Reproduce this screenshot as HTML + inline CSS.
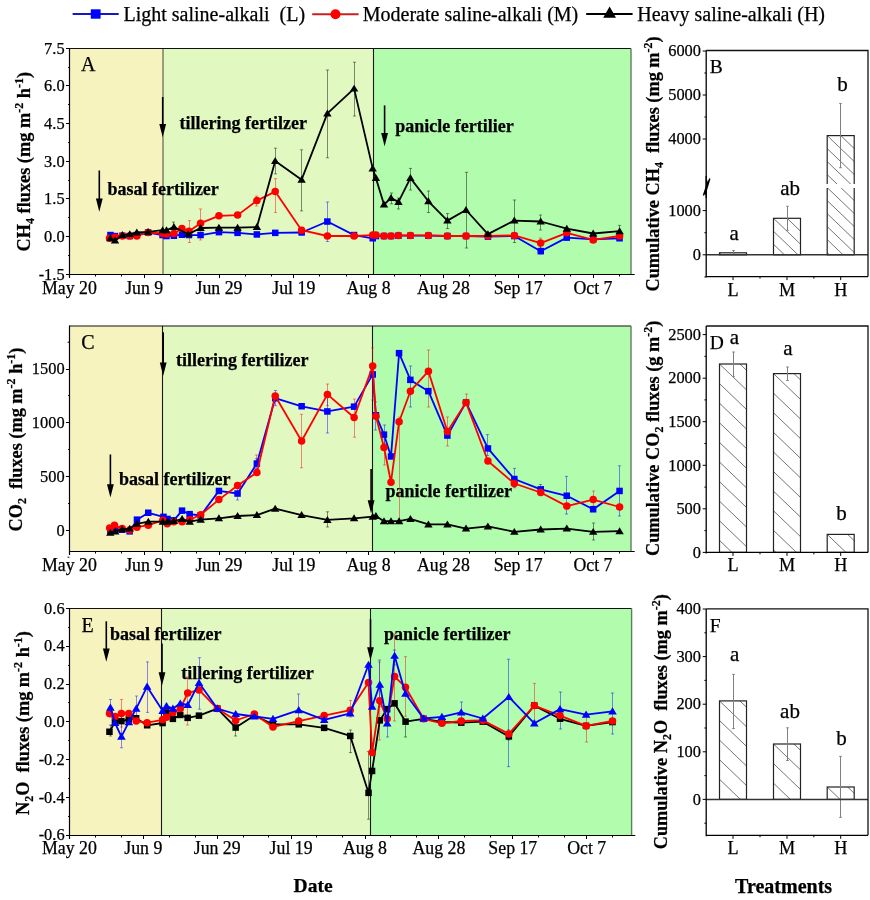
<!DOCTYPE html><html><head><meta charset="utf-8"><style>html,body{margin:0;padding:0;background:#fff;width:870px;height:900px;overflow:hidden}svg{display:block;will-change:transform}text{font-family:"Liberation Serif",serif;stroke:#000;stroke-width:0.25px}</style></head><body><svg width="870" height="900" viewBox="0 0 870 900" font-family='"Liberation Serif", serif'><rect width="870" height="900" fill="#fff"/><path d="M72.6,14H118.7" stroke="#1818c0" stroke-width="2"/><rect x="90.8" y="9.3" width="9.8" height="9.4" fill="#0000ff"/><text x="123.5" y="20.9" font-size="20" text-anchor="start" font-weight="normal" >Light saline-alkali&#160;&#160;(L)</text><path d="M312.2,14.2H358.6" stroke="#c82020" stroke-width="2"/><circle cx="335.5" cy="14.3" r="5" fill="#ff0000"/><text x="362.8" y="20.9" font-size="20" text-anchor="start" font-weight="normal" >Moderate saline-alkali (M)</text><path d="M586.2,13.9H632.6" stroke="#000" stroke-width="2"/><path d="M609.6,6.5L616,17.8L603.2,17.8Z" fill="#000"/><text x="637.3" y="20.9" font-size="20" text-anchor="start" font-weight="normal" >Heavy saline-alkali (H)</text><rect x="69.4" y="48.3" width="93.6" height="226.0" fill="#f6f3bf"/><rect x="163.0" y="48.3" width="210.39999999999998" height="226.0" fill="#e1f8c1"/><rect x="373.4" y="48.3" width="257.6" height="226.0" fill="#b1fcad"/><path d="M163.0,48.3V274.3" stroke="#55554a" stroke-width="1.1"/><path d="M373.5,48.3V274.3" stroke="#1a1a1a" stroke-width="1.1"/><path d="M69.5,48.5H631.0" stroke="#111" stroke-width="1.15"/><path d="M631.0,48.5V274.5" stroke="#5a805a" stroke-width="1.4"/><path d="M69.5,48.0V278.0M66.5,274.5H634.7" stroke="#000" stroke-width="1.2"/><text x="69.4" y="293.6" font-size="17.8" text-anchor="middle" font-weight="normal" >May 20</text><text x="144.2" y="293.6" font-size="17.8" text-anchor="middle" font-weight="normal" >Jun 9</text><text x="219.0" y="293.6" font-size="17.8" text-anchor="middle" font-weight="normal" >Jun 29</text><text x="293.8" y="293.6" font-size="17.8" text-anchor="middle" font-weight="normal" >Jul 19</text><text x="368.6" y="293.6" font-size="17.8" text-anchor="middle" font-weight="normal" >Aug 8</text><text x="443.4" y="293.6" font-size="17.8" text-anchor="middle" font-weight="normal" >Aug 28</text><text x="518.2" y="293.6" font-size="17.8" text-anchor="middle" font-weight="normal" >Sep 17</text><text x="593.0" y="293.6" font-size="17.8" text-anchor="middle" font-weight="normal" >Oct 7</text><path d="M95.5,274.5v2M121.5,274.5v2M144.5,274.5v3.5M170.5,274.5v2M196.5,274.5v2M219.5,274.5v3.5M245.5,274.5v2M271.5,274.5v2M293.5,274.5v3.5M319.5,274.5v2M346.5,274.5v2M368.5,274.5v3.5M394.5,274.5v2M420.5,274.5v2M443.5,274.5v3.5M469.5,274.5v2M495.5,274.5v2M518.5,274.5v3.5M544.5,274.5v2M570.5,274.5v2M593.5,274.5v3.5M619.5,274.5v2" stroke="#000" stroke-width="1"/><text x="64.6" y="53.5" font-size="16.4" text-anchor="end" font-weight="normal" >7.5</text><text x="64.6" y="91.1" font-size="16.4" text-anchor="end" font-weight="normal" >6.0</text><text x="64.6" y="128.8" font-size="16.4" text-anchor="end" font-weight="normal" >4.5</text><text x="64.6" y="166.5" font-size="16.4" text-anchor="end" font-weight="normal" >3.0</text><text x="64.6" y="204.1" font-size="16.4" text-anchor="end" font-weight="normal" >1.5</text><text x="64.6" y="241.8" font-size="16.4" text-anchor="end" font-weight="normal" >0.0</text><text x="64.6" y="279.5" font-size="16.4" text-anchor="end" font-weight="normal" >-1.5</text><path d="M66.0,48.5H69.5M68.1,67.5H69.5M66.0,85.5H69.5M68.1,104.5H69.5M66.0,123.5H69.5M68.1,142.5H69.5M66.0,161.5H69.5M68.1,180.5H69.5M66.0,198.5H69.5M68.1,217.5H69.5M66.0,236.5H69.5M68.1,255.5H69.5M66.0,274.5H69.5" stroke="#000" stroke-width="1"/><text x="81.0" y="70.6" font-size="20" text-anchor="start" font-weight="normal" >A</text><path d="M99.3,170.5V199.60000000000002" stroke="#000" stroke-width="1.6"/><path d="M95.89999999999999,198.60000000000002 L102.7,198.60000000000002 L99.3,211.8Z" fill="#000"/><text x="107.4" y="195.2" font-size="18" text-anchor="start" font-weight="bold" >basal fertilizer</text><path d="M162.7,97V124.99999999999999" stroke="#000" stroke-width="1.6"/><path d="M159.29999999999998,123.99999999999999 L166.1,123.99999999999999 L162.7,137.2Z" fill="#000"/><text x="179.6" y="128.9" font-size="18" text-anchor="start" font-weight="bold" >tillering fertilzer</text><path d="M384.6,105.4V134.0" stroke="#000" stroke-width="1.6"/><path d="M381.20000000000005,133.0 L388.0,133.0 L384.6,146.2Z" fill="#000"/><text x="395.2" y="131.8" font-size="18" text-anchor="start" font-weight="bold" >panicle fertilier</text><path d="M275.5,148.2V173.9M273.9,148.2H277.1M273.9,173.9H277.1" stroke="#000" stroke-width="1" fill="none" stroke-opacity="0.45"/><path d="M301.5,149.8V210.9M299.9,149.8H303.1M299.9,210.9H303.1" stroke="#000" stroke-width="1" fill="none" stroke-opacity="0.45"/><path d="M327.5,70.0V157.8M325.9,70.0H329.1M325.9,157.8H329.1" stroke="#000" stroke-width="1" fill="none" stroke-opacity="0.45"/><path d="M354.5,62.2V116.0M352.9,62.2H356.1M352.9,116.0H356.1" stroke="#000" stroke-width="1" fill="none" stroke-opacity="0.45"/><path d="M410.5,168.4V190.0M408.9,168.4H412.1M408.9,190.0H412.1" stroke="#000" stroke-width="1" fill="none" stroke-opacity="0.45"/><path d="M428.5,191.0V212.5M426.9,191.0H430.1M426.9,212.5H430.1" stroke="#000" stroke-width="1" fill="none" stroke-opacity="0.45"/><path d="M447.5,213.5V228.6M445.9,213.5H449.1M445.9,228.6H449.1" stroke="#000" stroke-width="1" fill="none" stroke-opacity="0.45"/><path d="M466.5,172.3V248.0M464.9,172.3H468.1M464.9,248.0H468.1" stroke="#000" stroke-width="1" fill="none" stroke-opacity="0.45"/><path d="M514.5,200.0V242.5M512.9,200.0H516.1M512.9,242.5H516.1" stroke="#000" stroke-width="1" fill="none" stroke-opacity="0.45"/><path d="M540.5,215.0V230.0M538.9,215.0H542.1M538.9,230.0H542.1" stroke="#000" stroke-width="1" fill="none" stroke-opacity="0.45"/><path d="M619.5,225.4V236.7M617.9,225.4H621.1M617.9,236.7H621.1" stroke="#000" stroke-width="1" fill="none" stroke-opacity="0.45"/><path d="M391.5,193.0V203.8M389.9,193.0H393.1M389.9,203.8H393.1" stroke="#000" stroke-width="1" fill="none" stroke-opacity="0.45"/><path d="M398.5,198.0V209.0M396.9,198.0H400.1M396.9,209.0H400.1" stroke="#000" stroke-width="1" fill="none" stroke-opacity="0.45"/><path d="M173.5,222.0V233.0M171.9,222.0H175.1M171.9,233.0H175.1" stroke="#000" stroke-width="1" fill="none" stroke-opacity="0.45"/><path d="M275.5,178.7V212.5M273.9,178.7H277.1M273.9,212.5H277.1" stroke="#f00" stroke-width="1" fill="none" stroke-opacity="0.45"/><path d="M200.5,209.0V240.0M198.9,209.0H202.1M198.9,240.0H202.1" stroke="#f00" stroke-width="1" fill="none" stroke-opacity="0.45"/><path d="M189.5,220.6V242.5M187.9,220.6H191.1M187.9,242.5H191.1" stroke="#f00" stroke-width="1" fill="none" stroke-opacity="0.45"/><path d="M256.5,196.0V206.0M254.9,196.0H258.1M254.9,206.0H258.1" stroke="#f00" stroke-width="1" fill="none" stroke-opacity="0.45"/><path d="M540.5,238.0V248.0M538.9,238.0H542.1M538.9,248.0H542.1" stroke="#f00" stroke-width="1" fill="none" stroke-opacity="0.45"/><path d="M327.5,202.0V241.5M325.9,202.0H329.1M325.9,241.5H329.1" stroke="#00f" stroke-width="1" fill="none" stroke-opacity="0.45"/><path d="M540.5,246.0V254.0M538.9,246.0H542.1M538.9,254.0H542.1" stroke="#00f" stroke-width="1" fill="none" stroke-opacity="0.45"/><polyline points="110.4,235.1 115.0,236.0 122.4,235.7 129.8,236.0 136.8,235.1 148.1,232.5 162.6,235.1 166.5,236.0 173.9,235.7 181.9,234.7 189.0,235.1 200.6,235.1 218.9,232.2 237.6,232.8 256.9,234.4 275.2,232.8 301.6,232.5 327.4,221.5 354.1,235.1 372.7,238.3 375.9,236.0 384.0,236.0 391.0,236.0 398.5,235.7 410.4,235.7 428.4,235.7 447.4,236.0 466.0,236.0 487.9,236.7 514.3,236.0 540.7,251.2 566.8,237.6 593.2,239.3 619.6,238.3" fill="none" stroke="#0000ff" stroke-width="1.8" stroke-linejoin="round"/><rect x="107.2" y="231.8" width="6.5" height="6.5" fill="#0000ff"/><rect x="111.7" y="232.8" width="6.5" height="6.5" fill="#0000ff"/><rect x="119.1" y="232.5" width="6.5" height="6.5" fill="#0000ff"/><rect x="126.5" y="232.8" width="6.5" height="6.5" fill="#0000ff"/><rect x="133.6" y="231.8" width="6.5" height="6.5" fill="#0000ff"/><rect x="144.9" y="229.2" width="6.5" height="6.5" fill="#0000ff"/><rect x="159.3" y="231.8" width="6.5" height="6.5" fill="#0000ff"/><rect x="163.2" y="232.8" width="6.5" height="6.5" fill="#0000ff"/><rect x="170.6" y="232.5" width="6.5" height="6.5" fill="#0000ff"/><rect x="178.7" y="231.5" width="6.5" height="6.5" fill="#0000ff"/><rect x="185.7" y="231.8" width="6.5" height="6.5" fill="#0000ff"/><rect x="197.3" y="231.8" width="6.5" height="6.5" fill="#0000ff"/><rect x="215.7" y="228.9" width="6.5" height="6.5" fill="#0000ff"/><rect x="234.3" y="229.6" width="6.5" height="6.5" fill="#0000ff"/><rect x="253.6" y="231.2" width="6.5" height="6.5" fill="#0000ff"/><rect x="272.0" y="229.6" width="6.5" height="6.5" fill="#0000ff"/><rect x="298.4" y="229.2" width="6.5" height="6.5" fill="#0000ff"/><rect x="324.1" y="218.3" width="6.5" height="6.5" fill="#0000ff"/><rect x="350.8" y="231.8" width="6.5" height="6.5" fill="#0000ff"/><rect x="369.5" y="235.0" width="6.5" height="6.5" fill="#0000ff"/><rect x="372.7" y="232.8" width="6.5" height="6.5" fill="#0000ff"/><rect x="380.7" y="232.8" width="6.5" height="6.5" fill="#0000ff"/><rect x="387.8" y="232.8" width="6.5" height="6.5" fill="#0000ff"/><rect x="395.2" y="232.5" width="6.5" height="6.5" fill="#0000ff"/><rect x="407.1" y="232.5" width="6.5" height="6.5" fill="#0000ff"/><rect x="425.1" y="232.5" width="6.5" height="6.5" fill="#0000ff"/><rect x="444.1" y="232.8" width="6.5" height="6.5" fill="#0000ff"/><rect x="462.8" y="232.8" width="6.5" height="6.5" fill="#0000ff"/><rect x="484.7" y="233.4" width="6.5" height="6.5" fill="#0000ff"/><rect x="511.1" y="232.8" width="6.5" height="6.5" fill="#0000ff"/><rect x="537.5" y="247.9" width="6.5" height="6.5" fill="#0000ff"/><rect x="563.5" y="234.4" width="6.5" height="6.5" fill="#0000ff"/><rect x="589.9" y="236.0" width="6.5" height="6.5" fill="#0000ff"/><rect x="616.3" y="235.0" width="6.5" height="6.5" fill="#0000ff"/><polyline points="109.5,238.3 115.0,237.3 122.4,236.0 129.8,236.0 136.8,236.0 148.1,232.5 162.6,233.5 166.5,234.1 173.9,233.5 181.9,228.6 189.0,231.2 200.6,223.2 218.9,215.8 237.6,215.1 256.9,200.6 275.2,191.6 301.6,230.2 327.4,236.0 354.1,236.0 372.7,235.1 375.9,235.1 384.0,236.0 391.0,236.0 398.5,235.4 410.4,235.4 428.4,235.4 447.4,236.0 466.0,236.0 487.9,236.0 514.3,235.4 540.7,243.1 566.8,232.8 593.2,239.9 619.6,236.0" fill="none" stroke="#ff0000" stroke-width="1.8" stroke-linejoin="round"/><circle cx="109.5" cy="238.3" r="3.75" fill="#ff0000"/><circle cx="115.0" cy="237.3" r="3.75" fill="#ff0000"/><circle cx="122.4" cy="236.0" r="3.75" fill="#ff0000"/><circle cx="129.8" cy="236.0" r="3.75" fill="#ff0000"/><circle cx="136.8" cy="236.0" r="3.75" fill="#ff0000"/><circle cx="148.1" cy="232.5" r="3.75" fill="#ff0000"/><circle cx="162.6" cy="233.5" r="3.75" fill="#ff0000"/><circle cx="166.5" cy="234.1" r="3.75" fill="#ff0000"/><circle cx="173.9" cy="233.5" r="3.75" fill="#ff0000"/><circle cx="181.9" cy="228.6" r="3.75" fill="#ff0000"/><circle cx="189.0" cy="231.2" r="3.75" fill="#ff0000"/><circle cx="200.6" cy="223.2" r="3.75" fill="#ff0000"/><circle cx="218.9" cy="215.8" r="3.75" fill="#ff0000"/><circle cx="237.6" cy="215.1" r="3.75" fill="#ff0000"/><circle cx="256.9" cy="200.6" r="3.75" fill="#ff0000"/><circle cx="275.2" cy="191.6" r="3.75" fill="#ff0000"/><circle cx="301.6" cy="230.2" r="3.75" fill="#ff0000"/><circle cx="327.4" cy="236.0" r="3.75" fill="#ff0000"/><circle cx="354.1" cy="236.0" r="3.75" fill="#ff0000"/><circle cx="372.7" cy="235.1" r="3.75" fill="#ff0000"/><circle cx="375.9" cy="235.1" r="3.75" fill="#ff0000"/><circle cx="384.0" cy="236.0" r="3.75" fill="#ff0000"/><circle cx="391.0" cy="236.0" r="3.75" fill="#ff0000"/><circle cx="398.5" cy="235.4" r="3.75" fill="#ff0000"/><circle cx="410.4" cy="235.4" r="3.75" fill="#ff0000"/><circle cx="428.4" cy="235.4" r="3.75" fill="#ff0000"/><circle cx="447.4" cy="236.0" r="3.75" fill="#ff0000"/><circle cx="466.0" cy="236.0" r="3.75" fill="#ff0000"/><circle cx="487.9" cy="236.0" r="3.75" fill="#ff0000"/><circle cx="514.3" cy="235.4" r="3.75" fill="#ff0000"/><circle cx="540.7" cy="243.1" r="3.75" fill="#ff0000"/><circle cx="566.8" cy="232.8" r="3.75" fill="#ff0000"/><circle cx="593.2" cy="239.9" r="3.75" fill="#ff0000"/><circle cx="619.6" cy="236.0" r="3.75" fill="#ff0000"/><polyline points="110.4,238.3 115.0,240.5 122.4,235.1 129.8,234.1 136.8,232.5 148.1,231.8 162.6,230.2 166.5,230.2 173.9,227.0 188.3,234.1 200.6,228.0 218.9,227.7 237.6,227.7 256.9,227.0 275.2,161.0 301.6,179.7 327.4,113.4 354.1,88.6 372.7,168.4 375.9,178.1 384.0,204.5 391.0,198.1 398.5,201.9 410.4,178.1 428.4,201.3 447.4,220.6 466.0,210.0 487.9,234.1 514.3,220.6 540.7,221.5 566.8,228.6 593.2,233.5 619.6,231.2" fill="none" stroke="#000000" stroke-width="1.8" stroke-linejoin="round"/><path d="M110.4,234.3 L114.6,241.3 L106.2,241.3Z" fill="#000000"/><path d="M115.0,236.6 L119.2,243.6 L110.8,243.6Z" fill="#000000"/><path d="M122.4,231.1 L126.6,238.1 L118.2,238.1Z" fill="#000000"/><path d="M129.8,230.2 L134.0,237.1 L125.6,237.1Z" fill="#000000"/><path d="M136.8,228.5 L141.0,235.5 L132.6,235.5Z" fill="#000000"/><path d="M148.1,227.9 L152.3,234.9 L143.9,234.9Z" fill="#000000"/><path d="M162.6,226.3 L166.8,233.3 L158.4,233.3Z" fill="#000000"/><path d="M166.5,226.3 L170.7,233.3 L162.3,233.3Z" fill="#000000"/><path d="M173.9,223.1 L178.1,230.0 L169.7,230.0Z" fill="#000000"/><path d="M188.3,230.2 L192.5,237.1 L184.1,237.1Z" fill="#000000"/><path d="M200.6,224.0 L204.8,231.0 L196.4,231.0Z" fill="#000000"/><path d="M218.9,223.7 L223.1,230.7 L214.7,230.7Z" fill="#000000"/><path d="M237.6,223.7 L241.8,230.7 L233.4,230.7Z" fill="#000000"/><path d="M256.9,223.1 L261.1,230.0 L252.7,230.0Z" fill="#000000"/><path d="M275.2,157.1 L279.4,164.1 L271.0,164.1Z" fill="#000000"/><path d="M301.6,175.8 L305.8,182.7 L297.4,182.7Z" fill="#000000"/><path d="M327.4,109.5 L331.6,116.4 L323.2,116.4Z" fill="#000000"/><path d="M354.1,84.7 L358.3,91.6 L349.9,91.6Z" fill="#000000"/><path d="M372.7,164.5 L376.9,171.5 L368.5,171.5Z" fill="#000000"/><path d="M375.9,174.1 L380.1,181.1 L371.7,181.1Z" fill="#000000"/><path d="M384.0,200.5 L388.2,207.5 L379.8,207.5Z" fill="#000000"/><path d="M391.0,194.1 L395.2,201.1 L386.8,201.1Z" fill="#000000"/><path d="M398.5,198.0 L402.7,204.9 L394.3,204.9Z" fill="#000000"/><path d="M410.4,174.1 L414.6,181.1 L406.2,181.1Z" fill="#000000"/><path d="M428.4,197.3 L432.6,204.3 L424.2,204.3Z" fill="#000000"/><path d="M447.4,216.6 L451.6,223.6 L443.2,223.6Z" fill="#000000"/><path d="M466.0,206.0 L470.2,213.0 L461.8,213.0Z" fill="#000000"/><path d="M487.9,230.2 L492.1,237.1 L483.7,237.1Z" fill="#000000"/><path d="M514.3,216.6 L518.5,223.6 L510.1,223.6Z" fill="#000000"/><path d="M540.7,217.6 L544.9,224.6 L536.5,224.6Z" fill="#000000"/><path d="M566.8,224.7 L571.0,231.7 L562.6,231.7Z" fill="#000000"/><path d="M593.2,229.5 L597.4,236.5 L589.0,236.5Z" fill="#000000"/><path d="M619.6,227.3 L623.8,234.2 L615.4,234.2Z" fill="#000000"/><rect x="69.4" y="325.9" width="93.19999999999999" height="225.70000000000005" fill="#f6f3bf"/><rect x="162.6" y="325.9" width="209.6" height="225.70000000000005" fill="#e1f8c1"/><rect x="372.2" y="325.9" width="258.8" height="225.70000000000005" fill="#b1fcad"/><path d="M162.5,325.9V551.6" stroke="#1a1a1a" stroke-width="1.1"/><path d="M372.5,325.9V551.6" stroke="#1a1a1a" stroke-width="1.1"/><path d="M69.5,326.0H631.0" stroke="#111" stroke-width="1.15"/><path d="M631.0,326.0V551.5" stroke="#5a805a" stroke-width="1.4"/><path d="M69.5,325.5V555.0M69.5,551.5H634.7" stroke="#000" stroke-width="1.2"/><text x="69.4" y="571.3" font-size="17.8" text-anchor="middle" font-weight="normal" >May 20</text><text x="144.2" y="571.3" font-size="17.8" text-anchor="middle" font-weight="normal" >Jun 9</text><text x="219.0" y="571.3" font-size="17.8" text-anchor="middle" font-weight="normal" >Jun 29</text><text x="293.8" y="571.3" font-size="17.8" text-anchor="middle" font-weight="normal" >Jul 19</text><text x="368.6" y="571.3" font-size="17.8" text-anchor="middle" font-weight="normal" >Aug 8</text><text x="443.4" y="571.3" font-size="17.8" text-anchor="middle" font-weight="normal" >Aug 28</text><text x="518.2" y="571.3" font-size="17.8" text-anchor="middle" font-weight="normal" >Sep 17</text><text x="593.0" y="571.3" font-size="17.8" text-anchor="middle" font-weight="normal" >Oct 7</text><path d="M95.5,551.5v2M121.5,551.5v2M144.5,551.5v3.5M170.5,551.5v2M196.5,551.5v2M219.5,551.5v3.5M245.5,551.5v2M271.5,551.5v2M293.5,551.5v3.5M319.5,551.5v2M346.5,551.5v2M368.5,551.5v3.5M394.5,551.5v2M420.5,551.5v2M443.5,551.5v3.5M469.5,551.5v2M495.5,551.5v2M518.5,551.5v3.5M544.5,551.5v2M570.5,551.5v2M593.5,551.5v3.5M619.5,551.5v2" stroke="#000" stroke-width="1"/><text x="64.6" y="374.3" font-size="16.4" text-anchor="end" font-weight="normal" >1500</text><text x="64.6" y="428.0" font-size="16.4" text-anchor="end" font-weight="normal" >1000</text><text x="64.6" y="481.8" font-size="16.4" text-anchor="end" font-weight="normal" >500</text><text x="64.6" y="535.5" font-size="16.4" text-anchor="end" font-weight="normal" >0</text><path d="M66.0,369.5H69.5M68.1,395.5H69.5M66.0,422.5H69.5M68.1,449.5H69.5M66.0,476.5H69.5M68.1,503.5H69.5M66.0,530.5H69.5" stroke="#000" stroke-width="1"/><text x="81.2" y="348.6" font-size="20" text-anchor="start" font-weight="normal" >C</text><path d="M67.60000000000001,342.2H69.4M67.60000000000001,557.2H69.4" stroke="#000" stroke-width="1"/><path d="M110.4,454.5V485.2" stroke="#000" stroke-width="1.6"/><path d="M107.0,484.2 L113.80000000000001,484.2 L110.4,497.4Z" fill="#000"/><text x="119.1" y="485.1" font-size="18" text-anchor="start" font-weight="bold" >basal fertilizer</text><path d="M163.2,332.3V363.5" stroke="#000" stroke-width="1.6"/><path d="M159.79999999999998,362.5 L166.6,362.5 L163.2,375.7Z" fill="#000"/><text x="176.1" y="366.4" font-size="18" text-anchor="start" font-weight="bold" >tillering fertilizer</text><path d="M371.1,469V501.3" stroke="#000" stroke-width="1.6"/><path d="M367.70000000000005,500.3 L374.5,500.3 L371.1,513.5Z" fill="#000"/><text x="385.6" y="497.4" font-size="18" text-anchor="start" font-weight="bold" >panicle fertilizer</text><path d="M327.5,511.8V527.0M325.9,511.8H329.1M325.9,527.0H329.1" stroke="#000" stroke-width="1" fill="none" stroke-opacity="0.45"/><path d="M593.5,523.0V540.0M591.9,523.0H595.1M591.9,540.0H595.1" stroke="#000" stroke-width="1" fill="none" stroke-opacity="0.45"/><path d="M301.5,414.3V467.8M299.9,414.3H303.1M299.9,467.8H303.1" stroke="#f00" stroke-width="1" fill="none" stroke-opacity="0.45"/><path d="M327.5,384.0V405.6M325.9,384.0H329.1M325.9,405.6H329.1" stroke="#f00" stroke-width="1" fill="none" stroke-opacity="0.45"/><path d="M354.5,399.0V437.2M352.9,399.0H356.1M352.9,437.2H356.1" stroke="#f00" stroke-width="1" fill="none" stroke-opacity="0.45"/><path d="M372.5,348.0V400.0M370.9,348.0H374.1M370.9,400.0H374.1" stroke="#f00" stroke-width="1" fill="none" stroke-opacity="0.45"/><path d="M399.5,417.0V523.0M397.9,417.0H401.1M397.9,523.0H401.1" stroke="#f00" stroke-width="1" fill="none" stroke-opacity="0.45"/><path d="M428.5,350.0V407.0M426.9,350.0H430.1M426.9,407.0H430.1" stroke="#f00" stroke-width="1" fill="none" stroke-opacity="0.45"/><path d="M447.5,417.0V446.0M445.9,417.0H449.1M445.9,446.0H449.1" stroke="#f00" stroke-width="1" fill="none" stroke-opacity="0.45"/><path d="M466.5,394.0V405.6M464.9,394.0H468.1M464.9,405.6H468.1" stroke="#f00" stroke-width="1" fill="none" stroke-opacity="0.45"/><path d="M593.5,491.0V506.0M591.9,491.0H595.1M591.9,506.0H595.1" stroke="#f00" stroke-width="1" fill="none" stroke-opacity="0.45"/><path d="M384.5,439.0V465.0M382.9,439.0H386.1M382.9,465.0H386.1" stroke="#f00" stroke-width="1" fill="none" stroke-opacity="0.45"/><path d="M256.5,455.0V466.0M254.9,455.0H258.1M254.9,466.0H258.1" stroke="#f00" stroke-width="1" fill="none" stroke-opacity="0.45"/><path d="M327.5,396.0V433.0M325.9,396.0H329.1M325.9,433.0H329.1" stroke="#00f" stroke-width="1" fill="none" stroke-opacity="0.45"/><path d="M275.5,390.5V405.6M273.9,390.5H277.1M273.9,405.6H277.1" stroke="#00f" stroke-width="1" fill="none" stroke-opacity="0.45"/><path d="M256.5,458.7V468.4M254.9,458.7H258.1M254.9,468.4H258.1" stroke="#00f" stroke-width="1" fill="none" stroke-opacity="0.45"/><path d="M410.5,366.0V407.0M408.9,366.0H412.1M408.9,407.0H412.1" stroke="#00f" stroke-width="1" fill="none" stroke-opacity="0.45"/><path d="M619.5,465.8V516.0M617.9,465.8H621.1M617.9,516.0H621.1" stroke="#00f" stroke-width="1" fill="none" stroke-opacity="0.45"/><path d="M566.5,476.4V514.0M564.9,476.4H568.1M564.9,514.0H568.1" stroke="#00f" stroke-width="1" fill="none" stroke-opacity="0.45"/><path d="M487.5,434.6V455.5M485.9,434.6H489.1M485.9,455.5H489.1" stroke="#00f" stroke-width="1" fill="none" stroke-opacity="0.45"/><path d="M540.5,484.5V494.0M538.9,484.5H542.1M538.9,494.0H542.1" stroke="#00f" stroke-width="1" fill="none" stroke-opacity="0.45"/><path d="M514.5,468.4V487.7M512.9,468.4H516.1M512.9,487.7H516.1" stroke="#00f" stroke-width="1" fill="none" stroke-opacity="0.45"/><path d="M375.5,402.0V430.0M373.9,402.0H377.1M373.9,430.0H377.1" stroke="#00f" stroke-width="1" fill="none" stroke-opacity="0.45"/><path d="M384.5,425.0V444.0M382.9,425.0H386.1M382.9,444.0H386.1" stroke="#00f" stroke-width="1" fill="none" stroke-opacity="0.45"/><path d="M237.5,488.0V500.0M235.9,488.0H239.1M235.9,500.0H239.1" stroke="#00f" stroke-width="1" fill="none" stroke-opacity="0.45"/><polyline points="110.3,530.7 115.2,530.0 122.1,529.7 129.7,531.4 137.0,519.7 148.3,512.8 163.4,516.9 167.6,519.0 173.8,520.3 182.1,510.7 189.7,514.1 200.7,515.5 218.9,490.9 237.6,493.5 256.9,463.6 275.2,398.2 301.6,406.3 327.4,411.4 354.1,406.6 372.7,374.4 375.9,415.3 384.0,434.6 391.0,456.5 399.1,353.2 410.4,379.9 428.4,391.2 447.4,435.6 466.0,402.4 487.9,448.4 514.3,479.0 540.7,489.3 566.8,495.8 593.2,509.3 619.6,490.9" fill="none" stroke="#0000ff" stroke-width="1.8" stroke-linejoin="round"/><rect x="107.1" y="527.4" width="6.5" height="6.5" fill="#0000ff"/><rect x="111.9" y="526.8" width="6.5" height="6.5" fill="#0000ff"/><rect x="118.8" y="526.5" width="6.5" height="6.5" fill="#0000ff"/><rect x="126.4" y="528.1" width="6.5" height="6.5" fill="#0000ff"/><rect x="133.7" y="516.4" width="6.5" height="6.5" fill="#0000ff"/><rect x="145.0" y="509.5" width="6.5" height="6.5" fill="#0000ff"/><rect x="160.2" y="513.6" width="6.5" height="6.5" fill="#0000ff"/><rect x="164.3" y="515.7" width="6.5" height="6.5" fill="#0000ff"/><rect x="170.5" y="517.1" width="6.5" height="6.5" fill="#0000ff"/><rect x="178.8" y="507.4" width="6.5" height="6.5" fill="#0000ff"/><rect x="186.4" y="510.9" width="6.5" height="6.5" fill="#0000ff"/><rect x="197.4" y="512.3" width="6.5" height="6.5" fill="#0000ff"/><rect x="215.7" y="487.7" width="6.5" height="6.5" fill="#0000ff"/><rect x="234.3" y="490.3" width="6.5" height="6.5" fill="#0000ff"/><rect x="253.6" y="460.3" width="6.5" height="6.5" fill="#0000ff"/><rect x="272.0" y="395.0" width="6.5" height="6.5" fill="#0000ff"/><rect x="298.4" y="403.0" width="6.5" height="6.5" fill="#0000ff"/><rect x="324.1" y="408.2" width="6.5" height="6.5" fill="#0000ff"/><rect x="350.8" y="403.4" width="6.5" height="6.5" fill="#0000ff"/><rect x="369.5" y="371.2" width="6.5" height="6.5" fill="#0000ff"/><rect x="372.7" y="412.0" width="6.5" height="6.5" fill="#0000ff"/><rect x="380.7" y="431.4" width="6.5" height="6.5" fill="#0000ff"/><rect x="387.8" y="453.2" width="6.5" height="6.5" fill="#0000ff"/><rect x="395.8" y="349.9" width="6.5" height="6.5" fill="#0000ff"/><rect x="407.1" y="376.6" width="6.5" height="6.5" fill="#0000ff"/><rect x="425.1" y="387.9" width="6.5" height="6.5" fill="#0000ff"/><rect x="444.1" y="432.3" width="6.5" height="6.5" fill="#0000ff"/><rect x="462.8" y="399.2" width="6.5" height="6.5" fill="#0000ff"/><rect x="484.7" y="445.2" width="6.5" height="6.5" fill="#0000ff"/><rect x="511.1" y="475.8" width="6.5" height="6.5" fill="#0000ff"/><rect x="537.5" y="486.1" width="6.5" height="6.5" fill="#0000ff"/><rect x="563.5" y="492.5" width="6.5" height="6.5" fill="#0000ff"/><rect x="589.9" y="506.0" width="6.5" height="6.5" fill="#0000ff"/><rect x="616.3" y="487.7" width="6.5" height="6.5" fill="#0000ff"/><polyline points="109.7,527.9 114.5,525.2 122.1,528.6 129.7,530.0 137.0,527.2 148.3,525.2 162.8,520.3 167.2,523.8 173.8,521.7 182.1,521.7 189.7,519.7 200.7,514.8 218.9,499.6 237.6,485.5 256.9,472.6 275.2,396.0 301.6,441.0 327.4,394.4 354.1,417.5 372.7,366.0 375.9,416.3 384.0,447.5 391.0,482.2 399.1,421.7 410.4,391.2 428.4,371.2 447.4,431.4 466.0,402.4 487.9,461.0 514.3,483.5 540.7,492.5 566.8,506.1 593.2,499.6 619.6,507.0" fill="none" stroke="#ff0000" stroke-width="1.8" stroke-linejoin="round"/><circle cx="109.7" cy="527.9" r="3.75" fill="#ff0000"/><circle cx="114.5" cy="525.2" r="3.75" fill="#ff0000"/><circle cx="122.1" cy="528.6" r="3.75" fill="#ff0000"/><circle cx="129.7" cy="530.0" r="3.75" fill="#ff0000"/><circle cx="137.0" cy="527.2" r="3.75" fill="#ff0000"/><circle cx="148.3" cy="525.2" r="3.75" fill="#ff0000"/><circle cx="162.8" cy="520.3" r="3.75" fill="#ff0000"/><circle cx="167.2" cy="523.8" r="3.75" fill="#ff0000"/><circle cx="173.8" cy="521.7" r="3.75" fill="#ff0000"/><circle cx="182.1" cy="521.7" r="3.75" fill="#ff0000"/><circle cx="189.7" cy="519.7" r="3.75" fill="#ff0000"/><circle cx="200.7" cy="514.8" r="3.75" fill="#ff0000"/><circle cx="218.9" cy="499.6" r="3.75" fill="#ff0000"/><circle cx="237.6" cy="485.5" r="3.75" fill="#ff0000"/><circle cx="256.9" cy="472.6" r="3.75" fill="#ff0000"/><circle cx="275.2" cy="396.0" r="3.75" fill="#ff0000"/><circle cx="301.6" cy="441.0" r="3.75" fill="#ff0000"/><circle cx="327.4" cy="394.4" r="3.75" fill="#ff0000"/><circle cx="354.1" cy="417.5" r="3.75" fill="#ff0000"/><circle cx="372.7" cy="366.0" r="3.75" fill="#ff0000"/><circle cx="375.9" cy="416.3" r="3.75" fill="#ff0000"/><circle cx="384.0" cy="447.5" r="3.75" fill="#ff0000"/><circle cx="391.0" cy="482.2" r="3.75" fill="#ff0000"/><circle cx="399.1" cy="421.7" r="3.75" fill="#ff0000"/><circle cx="410.4" cy="391.2" r="3.75" fill="#ff0000"/><circle cx="428.4" cy="371.2" r="3.75" fill="#ff0000"/><circle cx="447.4" cy="431.4" r="3.75" fill="#ff0000"/><circle cx="466.0" cy="402.4" r="3.75" fill="#ff0000"/><circle cx="487.9" cy="461.0" r="3.75" fill="#ff0000"/><circle cx="514.3" cy="483.5" r="3.75" fill="#ff0000"/><circle cx="540.7" cy="492.5" r="3.75" fill="#ff0000"/><circle cx="566.8" cy="506.1" r="3.75" fill="#ff0000"/><circle cx="593.2" cy="499.6" r="3.75" fill="#ff0000"/><circle cx="619.6" cy="507.0" r="3.75" fill="#ff0000"/><polyline points="110.3,532.8 115.2,531.4 122.1,529.3 129.7,528.6 137.0,523.8 148.3,521.7 162.8,521.7 167.6,521.7 173.8,521.0 182.1,519.0 189.7,521.7 200.7,519.7 218.9,518.3 237.6,516.0 256.9,515.1 275.2,508.6 301.6,515.1 327.4,519.9 354.1,518.3 372.7,516.7 375.9,516.0 384.0,521.2 391.0,521.2 399.1,521.2 410.4,518.9 428.4,524.4 447.4,524.4 466.0,528.6 487.9,526.3 514.3,531.8 540.7,529.5 566.8,528.6 593.2,531.8 619.6,531.2" fill="none" stroke="#000000" stroke-width="1.8" stroke-linejoin="round"/><path d="M110.3,528.8 L114.5,535.8 L106.1,535.8Z" fill="#000000"/><path d="M115.2,527.4 L119.4,534.4 L111.0,534.4Z" fill="#000000"/><path d="M122.1,525.4 L126.3,532.3 L117.9,532.3Z" fill="#000000"/><path d="M129.7,524.7 L133.9,531.6 L125.5,531.6Z" fill="#000000"/><path d="M137.0,519.8 L141.2,526.8 L132.8,526.8Z" fill="#000000"/><path d="M148.3,517.8 L152.5,524.7 L144.1,524.7Z" fill="#000000"/><path d="M162.8,517.8 L167.0,524.7 L158.6,524.7Z" fill="#000000"/><path d="M167.6,517.8 L171.8,524.7 L163.4,524.7Z" fill="#000000"/><path d="M173.8,517.1 L178.0,524.1 L169.6,524.1Z" fill="#000000"/><path d="M182.1,515.0 L186.3,522.0 L177.9,522.0Z" fill="#000000"/><path d="M189.7,517.8 L193.9,524.7 L185.5,524.7Z" fill="#000000"/><path d="M200.7,515.7 L204.9,522.7 L196.5,522.7Z" fill="#000000"/><path d="M218.9,514.3 L223.1,521.3 L214.7,521.3Z" fill="#000000"/><path d="M237.6,512.1 L241.8,519.1 L233.4,519.1Z" fill="#000000"/><path d="M256.9,511.1 L261.1,518.1 L252.7,518.1Z" fill="#000000"/><path d="M275.2,504.7 L279.4,511.7 L271.0,511.7Z" fill="#000000"/><path d="M301.6,511.1 L305.8,518.1 L297.4,518.1Z" fill="#000000"/><path d="M327.4,515.9 L331.6,522.9 L323.2,522.9Z" fill="#000000"/><path d="M354.1,514.3 L358.3,521.3 L349.9,521.3Z" fill="#000000"/><path d="M372.7,512.7 L376.9,519.7 L368.5,519.7Z" fill="#000000"/><path d="M375.9,512.1 L380.1,519.1 L371.7,519.1Z" fill="#000000"/><path d="M384.0,517.2 L388.2,524.2 L379.8,524.2Z" fill="#000000"/><path d="M391.0,517.2 L395.2,524.2 L386.8,524.2Z" fill="#000000"/><path d="M399.1,517.2 L403.3,524.2 L394.9,524.2Z" fill="#000000"/><path d="M410.4,515.0 L414.6,522.0 L406.2,522.0Z" fill="#000000"/><path d="M428.4,520.5 L432.6,527.4 L424.2,527.4Z" fill="#000000"/><path d="M447.4,520.5 L451.6,527.4 L443.2,527.4Z" fill="#000000"/><path d="M466.0,524.6 L470.2,531.6 L461.8,531.6Z" fill="#000000"/><path d="M487.9,522.4 L492.1,529.4 L483.7,529.4Z" fill="#000000"/><path d="M514.3,527.9 L518.5,534.8 L510.1,534.8Z" fill="#000000"/><path d="M540.7,525.6 L544.9,532.6 L536.5,532.6Z" fill="#000000"/><path d="M566.8,524.6 L571.0,531.6 L562.6,531.6Z" fill="#000000"/><path d="M593.2,527.9 L597.4,534.8 L589.0,534.8Z" fill="#000000"/><path d="M619.6,527.2 L623.8,534.2 L615.4,534.2Z" fill="#000000"/><rect x="69.4" y="608.4" width="92.19999999999999" height="226.80000000000007" fill="#f6f3bf"/><rect x="161.6" y="608.4" width="208.50000000000003" height="226.80000000000007" fill="#e1f8c1"/><rect x="370.1" y="608.4" width="261.5" height="226.80000000000007" fill="#b1fcad"/><path d="M161.5,608.4V835.2" stroke="#1a1a1a" stroke-width="1.1"/><path d="M370.5,608.4V835.2" stroke="#1a1a1a" stroke-width="1.1"/><path d="M69.5,608.5H631.6" stroke="#111" stroke-width="1.15"/><path d="M631.6,608.5V835.5" stroke="#5a805a" stroke-width="1.4"/><path d="M69.5,608.0V839.0M66.5,835.5H635.3000000000001" stroke="#000" stroke-width="1.2"/><text x="69.4" y="854.0" font-size="17.8" text-anchor="middle" font-weight="normal" >May 20</text><text x="143.3" y="854.0" font-size="17.8" text-anchor="middle" font-weight="normal" >Jun 9</text><text x="217.2" y="854.0" font-size="17.8" text-anchor="middle" font-weight="normal" >Jun 29</text><text x="291.1" y="854.0" font-size="17.8" text-anchor="middle" font-weight="normal" >Jul 19</text><text x="365.0" y="854.0" font-size="17.8" text-anchor="middle" font-weight="normal" >Aug 8</text><text x="438.9" y="854.0" font-size="17.8" text-anchor="middle" font-weight="normal" >Aug 28</text><text x="512.8" y="854.0" font-size="17.8" text-anchor="middle" font-weight="normal" >Sep 17</text><text x="586.7" y="854.0" font-size="17.8" text-anchor="middle" font-weight="normal" >Oct 7</text><path d="M95.5,835.5v2M121.5,835.5v2M143.5,835.5v3.5M169.5,835.5v2M195.5,835.5v2M217.5,835.5v3.5M243.5,835.5v2M268.5,835.5v2M291.5,835.5v3.5M316.5,835.5v2M342.5,835.5v2M365.5,835.5v3.5M390.5,835.5v2M416.5,835.5v2M438.5,835.5v3.5M464.5,835.5v2M490.5,835.5v2M512.5,835.5v3.5M538.5,835.5v2M564.5,835.5v2M586.5,835.5v3.5M612.5,835.5v2" stroke="#000" stroke-width="1"/><text x="64.6" y="613.6" font-size="16.4" text-anchor="end" font-weight="normal" >0.6</text><text x="64.6" y="651.4" font-size="16.4" text-anchor="end" font-weight="normal" >0.4</text><text x="64.6" y="689.2" font-size="16.4" text-anchor="end" font-weight="normal" >0.2</text><text x="64.6" y="727.0" font-size="16.4" text-anchor="end" font-weight="normal" >0.0</text><text x="64.6" y="764.8" font-size="16.4" text-anchor="end" font-weight="normal" >-0.2</text><text x="64.6" y="802.6" font-size="16.4" text-anchor="end" font-weight="normal" >-0.4</text><text x="64.6" y="840.4" font-size="16.4" text-anchor="end" font-weight="normal" >-0.6</text><path d="M66.0,608.5H69.5M68.1,627.5H69.5M66.0,646.5H69.5M68.1,665.5H69.5M66.0,684.5H69.5M68.1,702.5H69.5M66.0,721.5H69.5M68.1,740.5H69.5M66.0,759.5H69.5M68.1,778.5H69.5M66.0,797.5H69.5M68.1,816.5H69.5M66.0,835.5H69.5" stroke="#000" stroke-width="1"/><text x="81.5" y="632.0" font-size="20" text-anchor="start" font-weight="normal" >E</text><path d="M106.3,621.3V649.5" stroke="#000" stroke-width="1.6"/><path d="M102.89999999999999,648.5 L109.7,648.5 L106.3,661.7Z" fill="#000"/><text x="110.0" y="640.1" font-size="18" text-anchor="start" font-weight="bold" >basal fertilizer</text><path d="M162.0,643.6V673.3" stroke="#000" stroke-width="1.6"/><path d="M158.6,672.3 L165.4,672.3 L162.0,685.5Z" fill="#000"/><text x="181.3" y="678.8" font-size="18" text-anchor="start" font-weight="bold" >tillering fertilizer</text><path d="M370.5,619.2V648.1999999999999" stroke="#000" stroke-width="1.6"/><path d="M367.1,647.1999999999999 L373.9,647.1999999999999 L370.5,660.4Z" fill="#000"/><text x="384.0" y="639.8" font-size="18" text-anchor="start" font-weight="bold" >panicle fertilizer</text><path d="M235.5,725.0V736.0M233.9,725.0H237.1M233.9,736.0H237.1" stroke="#000" stroke-width="1" fill="none" stroke-opacity="0.45"/><path d="M350.5,730.0V752.6M348.9,730.0H352.1M348.9,752.6H352.1" stroke="#000" stroke-width="1" fill="none" stroke-opacity="0.45"/><path d="M368.5,751.6V819.2M366.9,751.6H370.1M366.9,819.2H370.1" stroke="#000" stroke-width="1" fill="none" stroke-opacity="0.45"/><path d="M405.5,721.0V737.0M403.9,721.0H407.1M403.9,737.0H407.1" stroke="#000" stroke-width="1" fill="none" stroke-opacity="0.45"/><path d="M508.5,730.0V740.0M506.9,730.0H510.1M506.9,740.0H510.1" stroke="#000" stroke-width="1" fill="none" stroke-opacity="0.45"/><path d="M110.5,725.0V736.0M108.9,725.0H112.1M108.9,736.0H112.1" stroke="#000" stroke-width="1" fill="none" stroke-opacity="0.45"/><path d="M121.5,699.5V727.0M119.9,699.5H123.1M119.9,727.0H123.1" stroke="#f00" stroke-width="1" fill="none" stroke-opacity="0.45"/><path d="M187.5,677.0V725.0M185.9,677.0H189.1M185.9,725.0H189.1" stroke="#f00" stroke-width="1" fill="none" stroke-opacity="0.45"/><path d="M350.5,700.5V717.0M348.9,700.5H352.1M348.9,717.0H352.1" stroke="#f00" stroke-width="1" fill="none" stroke-opacity="0.45"/><path d="M394.5,634.0V721.0M392.9,634.0H396.1M392.9,721.0H396.1" stroke="#f00" stroke-width="1" fill="none" stroke-opacity="0.45"/><path d="M405.5,656.7V716.2M403.9,656.7H407.1M403.9,716.2H407.1" stroke="#f00" stroke-width="1" fill="none" stroke-opacity="0.45"/><path d="M534.5,683.4V721.0M532.9,683.4H536.1M532.9,721.0H536.1" stroke="#f00" stroke-width="1" fill="none" stroke-opacity="0.45"/><path d="M586.5,716.0V742.0M584.9,716.0H588.1M584.9,742.0H588.1" stroke="#f00" stroke-width="1" fill="none" stroke-opacity="0.45"/><path d="M379.5,662.0V740.0M377.9,662.0H381.1M377.9,740.0H381.1" stroke="#f00" stroke-width="1" fill="none" stroke-opacity="0.45"/><path d="M147.5,661.9V712.4M145.9,661.9H149.1M145.9,712.4H149.1" stroke="#00f" stroke-width="1" fill="none" stroke-opacity="0.45"/><path d="M121.5,716.0V747.8M119.9,716.0H123.1M119.9,747.8H123.1" stroke="#00f" stroke-width="1" fill="none" stroke-opacity="0.45"/><path d="M110.5,699.5V717.0M108.9,699.5H112.1M108.9,717.0H112.1" stroke="#00f" stroke-width="1" fill="none" stroke-opacity="0.45"/><path d="M136.5,696.0V720.5M134.9,696.0H138.1M134.9,720.5H138.1" stroke="#00f" stroke-width="1" fill="none" stroke-opacity="0.45"/><path d="M199.5,657.7V709.2M197.9,657.7H201.1M197.9,709.2H201.1" stroke="#00f" stroke-width="1" fill="none" stroke-opacity="0.45"/><path d="M298.5,694.0V726.0M296.9,694.0H300.1M296.9,726.0H300.1" stroke="#00f" stroke-width="1" fill="none" stroke-opacity="0.45"/><path d="M508.5,659.2V766.7M506.9,659.2H510.1M506.9,766.7H510.1" stroke="#00f" stroke-width="1" fill="none" stroke-opacity="0.45"/><path d="M379.5,660.0V706.6M377.9,660.0H381.1M377.9,706.6H381.1" stroke="#00f" stroke-width="1" fill="none" stroke-opacity="0.45"/><path d="M387.5,706.6V737.0M385.9,706.6H389.1M385.9,737.0H389.1" stroke="#00f" stroke-width="1" fill="none" stroke-opacity="0.45"/><path d="M560.5,692.0V729.0M558.9,692.0H562.1M558.9,729.0H562.1" stroke="#00f" stroke-width="1" fill="none" stroke-opacity="0.45"/><path d="M612.5,693.0V734.0M610.9,693.0H614.1M610.9,734.0H614.1" stroke="#00f" stroke-width="1" fill="none" stroke-opacity="0.45"/><path d="M461.5,702.0V721.0M459.9,702.0H463.1M459.9,721.0H463.1" stroke="#00f" stroke-width="1" fill="none" stroke-opacity="0.45"/><path d="M394.5,650.0V665.0M392.9,650.0H396.1M392.9,665.0H396.1" stroke="#00f" stroke-width="1" fill="none" stroke-opacity="0.45"/><polyline points="109.5,731.7 115.0,722.1 121.4,721.1 128.8,719.5 136.2,718.2 147.1,725.3 162.6,723.0 166.5,712.4 172.9,718.9 180.3,715.0 187.7,717.9 199.0,715.6 217.3,708.6 235.7,727.5 254.3,715.6 273.0,724.3 298.7,724.3 324.2,727.9 350.2,735.9 368.5,792.8 372.1,770.9 379.8,720.4 387.2,709.1 394.6,703.3 405.5,721.7 423.6,718.8 441.9,722.0 461.2,722.6 482.8,721.7 508.8,736.5 534.3,705.6 560.0,718.8 586.1,725.9 612.5,722.0" fill="none" stroke="#000000" stroke-width="1.8" stroke-linejoin="round"/><rect x="106.2" y="728.5" width="6.5" height="6.5" fill="#000000"/><rect x="111.7" y="718.8" width="6.5" height="6.5" fill="#000000"/><rect x="118.1" y="717.9" width="6.5" height="6.5" fill="#000000"/><rect x="125.5" y="716.2" width="6.5" height="6.5" fill="#000000"/><rect x="132.9" y="715.0" width="6.5" height="6.5" fill="#000000"/><rect x="143.9" y="722.0" width="6.5" height="6.5" fill="#000000"/><rect x="159.3" y="719.8" width="6.5" height="6.5" fill="#000000"/><rect x="163.2" y="709.2" width="6.5" height="6.5" fill="#000000"/><rect x="169.6" y="715.6" width="6.5" height="6.5" fill="#000000"/><rect x="177.0" y="711.7" width="6.5" height="6.5" fill="#000000"/><rect x="184.4" y="714.6" width="6.5" height="6.5" fill="#000000"/><rect x="195.7" y="712.4" width="6.5" height="6.5" fill="#000000"/><rect x="214.1" y="705.3" width="6.5" height="6.5" fill="#000000"/><rect x="232.4" y="724.3" width="6.5" height="6.5" fill="#000000"/><rect x="251.1" y="712.4" width="6.5" height="6.5" fill="#000000"/><rect x="269.7" y="721.1" width="6.5" height="6.5" fill="#000000"/><rect x="295.5" y="721.1" width="6.5" height="6.5" fill="#000000"/><rect x="320.9" y="724.6" width="6.5" height="6.5" fill="#000000"/><rect x="347.0" y="732.7" width="6.5" height="6.5" fill="#000000"/><rect x="365.3" y="789.6" width="6.5" height="6.5" fill="#000000"/><rect x="368.8" y="767.7" width="6.5" height="6.5" fill="#000000"/><rect x="376.5" y="717.1" width="6.5" height="6.5" fill="#000000"/><rect x="383.9" y="705.9" width="6.5" height="6.5" fill="#000000"/><rect x="391.3" y="700.1" width="6.5" height="6.5" fill="#000000"/><rect x="402.3" y="718.4" width="6.5" height="6.5" fill="#000000"/><rect x="420.3" y="715.5" width="6.5" height="6.5" fill="#000000"/><rect x="438.7" y="718.8" width="6.5" height="6.5" fill="#000000"/><rect x="458.0" y="719.4" width="6.5" height="6.5" fill="#000000"/><rect x="479.5" y="718.4" width="6.5" height="6.5" fill="#000000"/><rect x="505.6" y="733.2" width="6.5" height="6.5" fill="#000000"/><rect x="531.0" y="702.3" width="6.5" height="6.5" fill="#000000"/><rect x="556.8" y="715.5" width="6.5" height="6.5" fill="#000000"/><rect x="582.8" y="722.6" width="6.5" height="6.5" fill="#000000"/><rect x="609.2" y="718.8" width="6.5" height="6.5" fill="#000000"/><polyline points="109.5,713.4 115.0,716.6 121.4,713.4 128.8,713.4 136.2,721.1 147.1,722.7 162.6,719.8 166.5,717.2 172.9,712.4 180.3,708.6 187.7,693.1 199.0,689.9 217.3,708.6 235.7,720.5 254.3,714.0 273.0,726.9 298.7,721.1 324.2,715.6 350.2,710.2 368.5,682.4 372.1,752.6 379.8,700.8 387.2,718.8 394.6,676.6 405.5,687.2 423.6,718.8 441.9,723.3 461.2,721.0 482.8,720.4 508.8,733.9 534.3,705.6 560.0,715.6 586.1,725.9 612.5,721.0" fill="none" stroke="#ff0000" stroke-width="1.8" stroke-linejoin="round"/><circle cx="109.5" cy="713.4" r="3.75" fill="#ff0000"/><circle cx="115.0" cy="716.6" r="3.75" fill="#ff0000"/><circle cx="121.4" cy="713.4" r="3.75" fill="#ff0000"/><circle cx="128.8" cy="713.4" r="3.75" fill="#ff0000"/><circle cx="136.2" cy="721.1" r="3.75" fill="#ff0000"/><circle cx="147.1" cy="722.7" r="3.75" fill="#ff0000"/><circle cx="162.6" cy="719.8" r="3.75" fill="#ff0000"/><circle cx="166.5" cy="717.2" r="3.75" fill="#ff0000"/><circle cx="172.9" cy="712.4" r="3.75" fill="#ff0000"/><circle cx="180.3" cy="708.6" r="3.75" fill="#ff0000"/><circle cx="187.7" cy="693.1" r="3.75" fill="#ff0000"/><circle cx="199.0" cy="689.9" r="3.75" fill="#ff0000"/><circle cx="217.3" cy="708.6" r="3.75" fill="#ff0000"/><circle cx="235.7" cy="720.5" r="3.75" fill="#ff0000"/><circle cx="254.3" cy="714.0" r="3.75" fill="#ff0000"/><circle cx="273.0" cy="726.9" r="3.75" fill="#ff0000"/><circle cx="298.7" cy="721.1" r="3.75" fill="#ff0000"/><circle cx="324.2" cy="715.6" r="3.75" fill="#ff0000"/><circle cx="350.2" cy="710.2" r="3.75" fill="#ff0000"/><circle cx="368.5" cy="682.4" r="3.75" fill="#ff0000"/><circle cx="372.1" cy="752.6" r="3.75" fill="#ff0000"/><circle cx="379.8" cy="700.8" r="3.75" fill="#ff0000"/><circle cx="387.2" cy="718.8" r="3.75" fill="#ff0000"/><circle cx="394.6" cy="676.6" r="3.75" fill="#ff0000"/><circle cx="405.5" cy="687.2" r="3.75" fill="#ff0000"/><circle cx="423.6" cy="718.8" r="3.75" fill="#ff0000"/><circle cx="441.9" cy="723.3" r="3.75" fill="#ff0000"/><circle cx="461.2" cy="721.0" r="3.75" fill="#ff0000"/><circle cx="482.8" cy="720.4" r="3.75" fill="#ff0000"/><circle cx="508.8" cy="733.9" r="3.75" fill="#ff0000"/><circle cx="534.3" cy="705.6" r="3.75" fill="#ff0000"/><circle cx="560.0" cy="715.6" r="3.75" fill="#ff0000"/><circle cx="586.1" cy="725.9" r="3.75" fill="#ff0000"/><circle cx="612.5" cy="721.0" r="3.75" fill="#ff0000"/><polyline points="110.4,707.6 115.0,723.0 121.4,736.6 128.8,722.1 136.2,708.6 147.1,686.7 162.6,710.8 166.5,706.0 172.9,708.6 180.3,703.4 187.7,705.0 199.0,682.8 217.3,708.6 235.7,714.0 254.3,716.3 273.0,718.9 298.7,710.2 324.2,719.8 350.2,713.4 368.5,664.7 372.1,706.6 379.8,684.7 387.2,723.3 394.6,655.7 405.5,693.7 423.6,718.5 441.9,716.9 461.2,712.3 482.8,718.5 508.8,696.9 534.3,723.3 560.0,709.1 586.1,714.6 612.5,711.4" fill="none" stroke="#0000ff" stroke-width="1.8" stroke-linejoin="round"/><path d="M110.4,703.5 L114.7,710.7 L106.1,710.7Z" fill="#0000ff"/><path d="M115.0,719.0 L119.3,726.1 L110.7,726.1Z" fill="#0000ff"/><path d="M121.4,732.5 L125.7,739.7 L117.1,739.7Z" fill="#0000ff"/><path d="M128.8,718.0 L133.1,725.2 L124.5,725.2Z" fill="#0000ff"/><path d="M136.2,704.5 L140.5,711.7 L131.9,711.7Z" fill="#0000ff"/><path d="M147.1,682.6 L151.4,689.8 L142.8,689.8Z" fill="#0000ff"/><path d="M162.6,706.8 L166.9,713.9 L158.3,713.9Z" fill="#0000ff"/><path d="M166.5,701.9 L170.8,709.1 L162.2,709.1Z" fill="#0000ff"/><path d="M172.9,704.5 L177.2,711.7 L168.6,711.7Z" fill="#0000ff"/><path d="M180.3,699.4 L184.6,706.5 L176.0,706.5Z" fill="#0000ff"/><path d="M187.7,701.0 L192.0,708.1 L183.4,708.1Z" fill="#0000ff"/><path d="M199.0,678.8 L203.3,685.9 L194.7,685.9Z" fill="#0000ff"/><path d="M217.3,704.5 L221.6,711.7 L213.0,711.7Z" fill="#0000ff"/><path d="M235.7,710.0 L240.0,717.1 L231.4,717.1Z" fill="#0000ff"/><path d="M254.3,712.2 L258.6,719.4 L250.0,719.4Z" fill="#0000ff"/><path d="M273.0,714.8 L277.3,722.0 L268.7,722.0Z" fill="#0000ff"/><path d="M298.7,706.1 L303.0,713.3 L294.4,713.3Z" fill="#0000ff"/><path d="M324.2,715.8 L328.5,722.9 L319.9,722.9Z" fill="#0000ff"/><path d="M350.2,709.3 L354.5,716.5 L345.9,716.5Z" fill="#0000ff"/><path d="M368.5,660.7 L372.8,667.8 L364.2,667.8Z" fill="#0000ff"/><path d="M372.1,702.5 L376.4,709.7 L367.8,709.7Z" fill="#0000ff"/><path d="M379.8,680.6 L384.1,687.8 L375.5,687.8Z" fill="#0000ff"/><path d="M387.2,719.3 L391.5,726.4 L382.9,726.4Z" fill="#0000ff"/><path d="M394.6,651.7 L398.9,658.8 L390.3,658.8Z" fill="#0000ff"/><path d="M405.5,689.6 L409.8,696.8 L401.2,696.8Z" fill="#0000ff"/><path d="M423.6,714.4 L427.9,721.6 L419.3,721.6Z" fill="#0000ff"/><path d="M441.9,712.8 L446.2,720.0 L437.6,720.0Z" fill="#0000ff"/><path d="M461.2,708.3 L465.5,715.4 L456.9,715.4Z" fill="#0000ff"/><path d="M482.8,714.4 L487.1,721.6 L478.5,721.6Z" fill="#0000ff"/><path d="M508.8,692.9 L513.1,700.0 L504.5,700.0Z" fill="#0000ff"/><path d="M534.3,719.3 L538.6,726.4 L530.0,726.4Z" fill="#0000ff"/><path d="M560.0,705.1 L564.3,712.2 L555.7,712.2Z" fill="#0000ff"/><path d="M586.1,710.6 L590.4,717.7 L581.8,717.7Z" fill="#0000ff"/><path d="M612.5,707.3 L616.8,714.5 L608.2,714.5Z" fill="#0000ff"/><text transform="translate(29.8,251.4) rotate(-90)" font-size="18.3" font-weight="bold">CH<tspan font-size="12" dy="4">4</tspan><tspan dy="-4"> fluxes (mg m</tspan><tspan font-size="12" dy="-7">-2</tspan><tspan dy="7"> h</tspan><tspan font-size="12" dy="-7">-1</tspan><tspan dy="7">)</tspan></text><text transform="translate(22.0,531.5) rotate(-90)" font-size="18.3" font-weight="bold">CO<tspan font-size="12" dy="4">2</tspan><tspan dy="-4">&#160; fluxes (mg m</tspan><tspan font-size="12" dy="-7">-2</tspan><tspan dy="7"> h</tspan><tspan font-size="12" dy="-7">-1</tspan><tspan dy="7">)</tspan></text><text transform="translate(29.4,815.0) rotate(-90)" font-size="18.3" font-weight="bold">N<tspan font-size="12" dy="4">2</tspan><tspan dy="-4">O&#160; fluxes (mg m</tspan><tspan font-size="12" dy="-7">-2</tspan><tspan dy="7"> h</tspan><tspan font-size="12" dy="-7">-1</tspan><tspan dy="7">)</tspan></text><defs><pattern id="h13" patternUnits="userSpaceOnUse" width="13.2" height="13.2"><path d="M-1,-1L14.2,14.2M-14.2,-1L1,14.2M12.2,-1L27.4,14.2" stroke="#555" stroke-width="0.8"/></pattern><pattern id="h19" patternUnits="userSpaceOnUse" width="19.6" height="19.6"><path d="M-1,-1L20.6,20.6M-20.6,-1L1,20.6M18.6,-1L40.2,20.6" stroke="#555" stroke-width="0.8"/></pattern></defs><rect x="706.2" y="50.5" width="161.79999999999995" height="226.10000000000002" fill="#fff"/><clipPath id="clB0"><rect x="719.5" y="252.8" width="27.0" height="2.0"/></clipPath><path d="M719.5,252.8l29.0,27.8M719.5,239.8l29.0,27.8" stroke="#666" stroke-width="0.9" clip-path="url(#clB0)"/><rect x="719.5" y="252.8" width="27.0" height="2.0" fill="none" stroke="#222" stroke-width="1.2"/><clipPath id="clB1"><rect x="773.5" y="218.3" width="27.0" height="36.5"/></clipPath><path d="M773.5,218.3l29.0,27.8M773.5,231.3l29.0,27.8M773.5,244.3l29.0,27.8M773.5,205.3l29.0,27.8" stroke="#666" stroke-width="0.9" clip-path="url(#clB1)"/><rect x="773.5" y="218.3" width="27.0" height="36.5" fill="none" stroke="#222" stroke-width="1.2"/><clipPath id="clB2"><rect x="827.2" y="135.6" width="27.0" height="119.2"/></clipPath><path d="M827.2,135.6l29.0,27.8M827.2,148.6l29.0,27.8M827.2,161.6l29.0,27.8M827.2,174.6l29.0,27.8M827.2,187.6l29.0,27.8M827.2,200.6l29.0,27.8M827.2,213.6l29.0,27.8M827.2,226.6l29.0,27.8M827.2,239.6l29.0,27.8M827.2,252.6l29.0,27.8M827.2,122.6l29.0,27.8" stroke="#666" stroke-width="0.9" clip-path="url(#clB2)"/><rect x="827.2" y="135.6" width="27.0" height="119.2" fill="none" stroke="#222" stroke-width="1.2"/><path d="M733.5,250.5V254.5M732.2,250.5H734.8M732.2,254.5H734.8" stroke="#808080" stroke-width="1"/><path d="M787.5,206.3V230.3M786.2,206.3H788.8M786.2,230.3H788.8" stroke="#808080" stroke-width="1"/><path d="M840.5,103.4V167.7M839.2,103.4H841.8M839.2,167.7H841.8" stroke="#808080" stroke-width="1"/><path d="M706.2,254.8H868.0" stroke="#333" stroke-width="1.5"/><path d="M706.2,50.5H868.0V276.6" fill="none" stroke="#111" stroke-width="1.3"/><path d="M706.2,50.5V277.6M706.2,276.6H868.0" stroke="#000" stroke-width="1.3"/><path d="M733.0,276.6v3.5M787.0,276.6v3.5M840.7,276.6v3.5M760.0,276.6v2M813.85,276.6v2M702.7,51.0H706.2M702.7,95.0H706.2M702.7,139.0H706.2M702.7,210.6H706.2M702.7,254.8H706.2M704.4000000000001,73.0H706.2M704.4000000000001,117.0H706.2M704.4000000000001,232.7H706.2M704.4000000000001,276.9H706.2" stroke="#000" stroke-width="1"/><text x="701.0" y="56.2" font-size="16.4" text-anchor="end" font-weight="normal" >6000</text><text x="701.0" y="100.2" font-size="16.4" text-anchor="end" font-weight="normal" >5000</text><text x="701.0" y="144.2" font-size="16.4" text-anchor="end" font-weight="normal" >4000</text><text x="701.0" y="215.8" font-size="16.4" text-anchor="end" font-weight="normal" >1000</text><text x="701.0" y="260.0" font-size="16.4" text-anchor="end" font-weight="normal" >0</text><text x="733.0" y="295.5" font-size="18.2" text-anchor="middle" font-weight="normal" >L</text><text x="787.0" y="295.5" font-size="18.2" text-anchor="middle" font-weight="normal" >M</text><text x="840.7" y="295.5" font-size="18.2" text-anchor="middle" font-weight="normal" >H</text><text x="734.1" y="239.6" font-size="21" text-anchor="middle" font-weight="normal" >a</text><text x="790.2" y="194.9" font-size="21" text-anchor="middle" font-weight="normal" >ab</text><text x="842.5" y="90.7" font-size="21" text-anchor="middle" font-weight="normal" >b</text><text x="709.8" y="72.6" font-size="19.5" text-anchor="start" font-weight="normal" >B</text><rect x="825" y="184" width="32" height="4" fill="#fff"/><path d="M703.4,195.5L708.4,180.5M705.0,194.5L709.8,178.5" stroke="#000" stroke-width="1.4"/><path d="M706.2,176V198" stroke="#000" stroke-width="1.3"/><rect x="706.2" y="326.0" width="161.79999999999995" height="226.39999999999998" fill="#fff"/><clipPath id="clD0"><rect x="719.5" y="364.0" width="27.0" height="188.4"/></clipPath><path d="M719.5,364.0l29.0,27.8M719.5,383.6l29.0,27.8M719.5,403.2l29.0,27.8M719.5,422.8l29.0,27.8M719.5,442.4l29.0,27.8M719.5,462.0l29.0,27.8M719.5,481.6l29.0,27.8M719.5,501.2l29.0,27.8M719.5,520.8l29.0,27.8M719.5,540.4l29.0,27.8M719.5,344.4l29.0,27.8" stroke="#666" stroke-width="0.9" clip-path="url(#clD0)"/><rect x="719.5" y="364.0" width="27.0" height="188.4" fill="none" stroke="#222" stroke-width="1.2"/><clipPath id="clD1"><rect x="773.5" y="373.6" width="27.0" height="178.8"/></clipPath><path d="M773.5,373.6l29.0,27.8M773.5,393.2l29.0,27.8M773.5,412.8l29.0,27.8M773.5,432.4l29.0,27.8M773.5,452.0l29.0,27.8M773.5,471.6l29.0,27.8M773.5,491.2l29.0,27.8M773.5,510.8l29.0,27.8M773.5,530.4l29.0,27.8M773.5,550.0l29.0,27.8M773.5,354.0l29.0,27.8" stroke="#666" stroke-width="0.9" clip-path="url(#clD1)"/><rect x="773.5" y="373.6" width="27.0" height="178.8" fill="none" stroke="#222" stroke-width="1.2"/><clipPath id="clD2"><rect x="827.2" y="534.4" width="27.0" height="18.0"/></clipPath><path d="M827.2,534.4l29.0,27.8M827.2,514.8l29.0,27.8" stroke="#666" stroke-width="0.9" clip-path="url(#clD2)"/><rect x="827.2" y="534.4" width="27.0" height="18.0" fill="none" stroke="#222" stroke-width="1.2"/><path d="M733.5,352V376.6M732.2,352H734.8M732.2,376.6H734.8" stroke="#808080" stroke-width="1"/><path d="M787.5,367V380.5M786.2,367H788.8M786.2,380.5H788.8" stroke="#808080" stroke-width="1"/><path d="M706.2,326.0H868.0V552.4" fill="none" stroke="#111" stroke-width="1.3"/><path d="M706.2,326.0V553.4M706.2,552.4H868.0" stroke="#000" stroke-width="1.3"/><path d="M733.0,552.4v3.5M787.0,552.4v3.5M840.7,552.4v3.5M760.0,552.4v2M813.85,552.4v2M702.7,334.6H706.2M702.7,378.2H706.2M702.7,421.7H706.2M702.7,465.3H706.2M702.7,508.8H706.2M702.7,552.4H706.2M704.4000000000001,356.4H706.2M704.4000000000001,399.9H706.2M704.4000000000001,443.5H706.2M704.4000000000001,487.1H706.2M704.4000000000001,530.6H706.2" stroke="#000" stroke-width="1"/><text x="701.0" y="339.8" font-size="16.4" text-anchor="end" font-weight="normal" >2500</text><text x="701.0" y="383.4" font-size="16.4" text-anchor="end" font-weight="normal" >2000</text><text x="701.0" y="426.9" font-size="16.4" text-anchor="end" font-weight="normal" >1500</text><text x="701.0" y="470.5" font-size="16.4" text-anchor="end" font-weight="normal" >1000</text><text x="701.0" y="514.0" font-size="16.4" text-anchor="end" font-weight="normal" >500</text><text x="701.0" y="557.6" font-size="16.4" text-anchor="end" font-weight="normal" >0</text><text x="733.0" y="571.0" font-size="18.2" text-anchor="middle" font-weight="normal" >L</text><text x="787.0" y="571.0" font-size="18.2" text-anchor="middle" font-weight="normal" >M</text><text x="840.7" y="571.0" font-size="18.2" text-anchor="middle" font-weight="normal" >H</text><text x="734.5" y="343.6" font-size="21" text-anchor="middle" font-weight="normal" >a</text><text x="788.0" y="355.0" font-size="21" text-anchor="middle" font-weight="normal" >a</text><text x="841.6" y="520.0" font-size="21" text-anchor="middle" font-weight="normal" >b</text><text x="709.8" y="349.0" font-size="19.5" text-anchor="start" font-weight="normal" >D</text><rect x="706.2" y="608.9" width="161.79999999999995" height="226.39999999999998" fill="#fff"/><clipPath id="clF0"><rect x="719.5" y="700.9" width="27.0" height="98.5"/></clipPath><path d="M719.5,700.9l29.0,27.8M719.5,720.5l29.0,27.8M719.5,740.1l29.0,27.8M719.5,759.7l29.0,27.8M719.5,779.3l29.0,27.8M719.5,798.9l29.0,27.8M719.5,681.3l29.0,27.8" stroke="#666" stroke-width="0.9" clip-path="url(#clF0)"/><rect x="719.5" y="700.9" width="27.0" height="98.5" fill="none" stroke="#222" stroke-width="1.2"/><clipPath id="clF1"><rect x="773.5" y="744.0" width="27.0" height="55.4"/></clipPath><path d="M773.5,744.0l29.0,27.8M773.5,763.6l29.0,27.8M773.5,783.2l29.0,27.8M773.5,724.4l29.0,27.8" stroke="#666" stroke-width="0.9" clip-path="url(#clF1)"/><rect x="773.5" y="744.0" width="27.0" height="55.4" fill="none" stroke="#222" stroke-width="1.2"/><clipPath id="clF2"><rect x="827.2" y="787.0" width="27.0" height="12.4"/></clipPath><path d="M827.2,787.0l29.0,27.8M827.2,767.4l29.0,27.8" stroke="#666" stroke-width="0.9" clip-path="url(#clF2)"/><rect x="827.2" y="787.0" width="27.0" height="12.4" fill="none" stroke="#222" stroke-width="1.2"/><path d="M733.5,674.4V728.5M732.2,674.4H734.8M732.2,728.5H734.8" stroke="#808080" stroke-width="1"/><path d="M787.5,727.8V760.5M786.2,727.8H788.8M786.2,760.5H788.8" stroke="#808080" stroke-width="1"/><path d="M840.5,756.4V817.4M839.2,756.4H841.8M839.2,817.4H841.8" stroke="#808080" stroke-width="1"/><path d="M706.2,799.4H868.0" stroke="#333" stroke-width="1.5"/><path d="M706.2,608.9H868.0V835.3" fill="none" stroke="#111" stroke-width="1.3"/><path d="M706.2,608.9V836.3M706.2,835.3H868.0" stroke="#000" stroke-width="1.3"/><path d="M733.0,835.3v3.5M787.0,835.3v3.5M840.7,835.3v3.5M760.0,835.3v2M813.85,835.3v2M702.7,609.0H706.2M702.7,656.6H706.2M702.7,704.2H706.2M702.7,751.8H706.2M702.7,799.4H706.2M704.4000000000001,632.8H706.2M704.4000000000001,680.4H706.2M704.4000000000001,728.0H706.2M704.4000000000001,775.6H706.2M704.4000000000001,823.2H706.2" stroke="#000" stroke-width="1"/><text x="701.0" y="614.2" font-size="16.4" text-anchor="end" font-weight="normal" >400</text><text x="701.0" y="661.8" font-size="16.4" text-anchor="end" font-weight="normal" >300</text><text x="701.0" y="709.4" font-size="16.4" text-anchor="end" font-weight="normal" >200</text><text x="701.0" y="757.0" font-size="16.4" text-anchor="end" font-weight="normal" >100</text><text x="701.0" y="804.6" font-size="16.4" text-anchor="end" font-weight="normal" >0</text><text x="733.0" y="853.5" font-size="18.2" text-anchor="middle" font-weight="normal" >L</text><text x="787.0" y="853.5" font-size="18.2" text-anchor="middle" font-weight="normal" >M</text><text x="840.7" y="853.5" font-size="18.2" text-anchor="middle" font-weight="normal" >H</text><text x="734.7" y="660.6" font-size="21" text-anchor="middle" font-weight="normal" >a</text><text x="790.0" y="717.5" font-size="21" text-anchor="middle" font-weight="normal" >ab</text><text x="841.4" y="745.0" font-size="21" text-anchor="middle" font-weight="normal" >b</text><text x="709.8" y="632.0" font-size="19.5" text-anchor="start" font-weight="normal" >F</text><text transform="translate(659.0,291.5) rotate(-90)" font-size="18.3" font-weight="bold">Cumulative CH<tspan font-size="12" dy="4">4</tspan><tspan dy="-4">&#160; fluxes (mg m</tspan><tspan font-size="12" dy="-7">-2</tspan><tspan dy="7">)</tspan></text><text transform="translate(658.7,556.0) rotate(-90)" font-size="18.3" font-weight="bold">Cumulative CO<tspan font-size="12" dy="4">2</tspan><tspan dy="-4"> fluxes (g m</tspan><tspan font-size="12" dy="-7">-2</tspan><tspan dy="7">)</tspan></text><text transform="translate(667.0,849.3) rotate(-90)" font-size="18.3" font-weight="bold">Cumulative N<tspan font-size="12" dy="4">2</tspan><tspan dy="-4">O&#160; fluxes (mg m</tspan><tspan font-size="12" dy="-7">-2</tspan><tspan dy="7">)</tspan></text><text x="313.1" y="891.7" font-size="19.5" text-anchor="middle" font-weight="bold" >Date</text><text x="783.6" y="892.6" font-size="20" text-anchor="middle" font-weight="bold" >Treatments</text></svg></body></html>
